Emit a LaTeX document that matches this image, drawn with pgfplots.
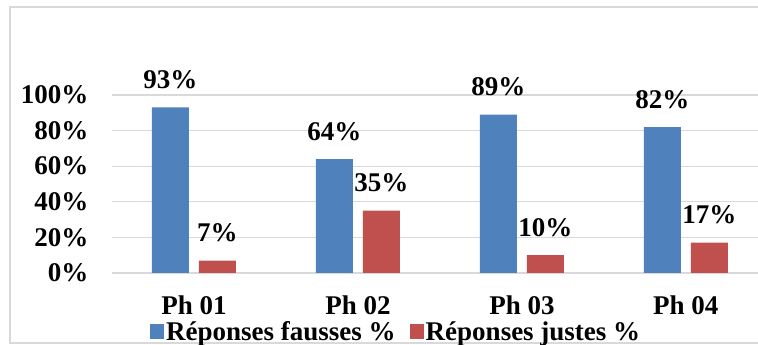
\documentclass[border=0pt]{standalone}
\usepackage{pgfplots}
\pgfplotsset{compat=1.18}
\usepackage{fontspec}
\setmainfont{Liberation Serif}
\definecolor{cblue}{HTML}{4F81BD}
\definecolor{cred}{HTML}{C0504D}
\definecolor{cgrid}{HTML}{D9D9D9}
\newcommand{\bigb}{\fontsize{27}{30}\selectfont\bfseries}
\begin{document}
\begin{tikzpicture}[x=1pt,y=1pt]
\useasboundingbox (0,0) rectangle (758,345);
\draw[cgrid, line width=1.5pt] (10,2) rectangle (775,338);
\begin{axis}[
  at={(112pt,72pt)}, anchor=south west,
  width=646pt, height=178pt, scale only axis,
  ybar, bar width=37pt,
  ymin=0, ymax=100,
  xmin=-0.5, xmax=3.44,
  xtick={0,1,2,3},
  xticklabels={Ph 01,Ph 02,Ph 03,Ph 04},
  ytick={0,20,40,60,80,100},
  yticklabel={\pgfmathprintnumber{\tick}\%},
  /pgf/number format/assume math mode=true,
  axis line style={draw=none},
  major tick length=0pt,
  ymajorgrids, grid style={cgrid, line width=1.2pt},
  tick label style={font=\bigb},
  yticklabel style={xshift=-20pt},
  xticklabel style={yshift=-19pt},
  nodes near coords={\pgfmathprintnumber{\pgfplotspointmeta}\%},
  nodes near coords style={font=\bigb, yshift=15pt},
  legend style={at={(0.44,-0.33)}, anchor=center, draw=none, fill=none,
    font=\bigb, legend columns=2,
    /tikz/every even column/.append style={column sep=12pt}},
  legend image code/.code={\fill[#1] (0pt,-7pt) rectangle (14pt,8pt);},
]
\addplot[fill=cblue, draw=none, bar shift=-23.5pt] coordinates {(0,93) (1,64) (2,89) (3,82)};
\addplot[fill=cred, draw=none, bar shift=23.5pt] coordinates {(0,7) (1,35) (2,10) (3,17)};
\legend{\bigb Réponses fausses \%, \bigb Réponses justes \%}
\end{axis}
\end{tikzpicture}
\end{document}
